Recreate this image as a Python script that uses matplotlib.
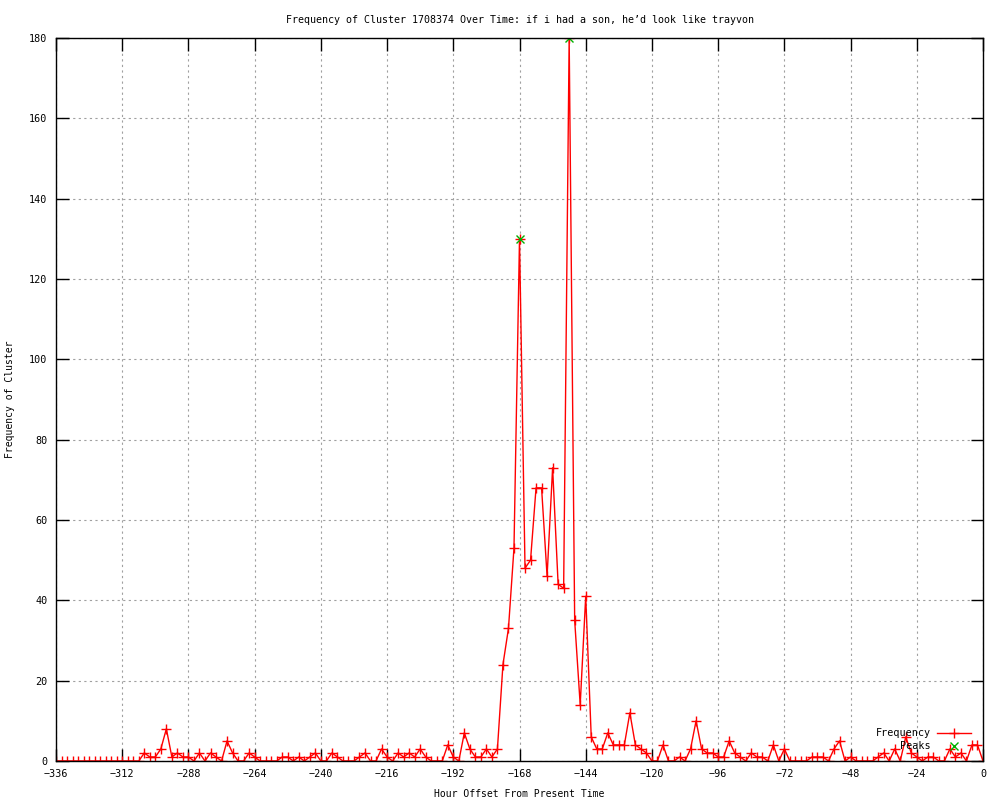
import numpy as np
import matplotlib
matplotlib.use("Agg")
import matplotlib.pyplot as plt

# hourly offsets, sampled every 2 hours
hours = np.arange(-336, 1, 2)
freq = [
    0, 0, 0, 0, 0, 0, 0, 0, 0, 0, 0, 0, 0, 0, 0, 0,      # -336 .. -306
    2, 1, 1, 3, 8, 1, 2, 1, 1, 0, 2, 0,                  # -304 .. -282
    2, 1, 0, 5, 2, 0, 0, 2, 1, 0, 0, 0,                  # -280 .. -258
    0, 1, 1, 0, 1, 0, 1, 2, 0, 0, 2, 1,                  # -256 .. -234
    0, 0, 0, 1, 2, 0, 0, 3, 1, 0, 2, 1,                  # -232 .. -210
    2, 1, 3, 1, 0, 0, 0, 4, 1, 0, 7, 3,                  # -208 .. -186
    1, 1, 3, 1, 3, 24, 33, 53, 130, 48, 50, 68,          # -184 .. -162
    68, 46, 73, 44, 43, 180, 35, 14, 41, 6, 3, 3,        # -160 .. -138
    7, 4, 4, 4, 12, 4, 3, 2, 0, 0, 4, 0,                 # -136 .. -114
    0, 1, 0, 3, 10, 3, 2, 2, 1, 1, 5, 2,                 # -112 .. -90
    1, 0, 2, 1, 1, 0, 4, 0, 3, 0, 0, 0,                  # -88 .. -66
    0, 1, 1, 1, 0, 3, 5, 0, 1, 0, 0, 0,                  # -64 .. -42
    0, 1, 2, 0, 3, 0, 6, 2, 1, 0, 1, 1,                  # -40 .. -18
    0, 0, 3, 1, 2, 0, 4, 4, 0,                           # -16 .. 0
]
peak_hours = [-168, -150]
peak_vals = [130, 180]

title = "Frequency of Cluster 1708374 Over Time: if i had a son, he\u2019d look like trayvon"

plt.rcParams['font.family'] = ['DejaVu Sans Mono']
plt.rcParams['font.size'] = 7

fig = plt.figure(figsize=(10, 8), dpi=100)
ax = fig.add_axes([0.056, 0.04875, 0.927, 0.90375])

ax.plot(hours, freq, color='red', lw=1, marker='+', ms=7, mew=1,
        label='Frequency')
ax.plot(peak_hours, peak_vals, ls='none', color='#00b000', marker='x',
        ms=5.5, mew=1, label='Peaks')

ax.set_xlim(-336, 0)
ax.set_ylim(0, 180)
ax.set_xticks(np.arange(-336, 1, 24))
ax.set_yticks(np.arange(0, 181, 20))
ax.tick_params(direction='in', length=9, width=1, top=True, right=True,
               labelsize=7.3, pad=6)
ax.grid(True, color='#a0a0a0', ls=(0, (2, 3)), lw=0.8)
for s in ax.spines.values():
    s.set_linewidth(1)

ax.set_title(title, fontsize=7.2, pad=11)
ax.set_xlabel("Hour Offset From Present Time", fontsize=7, labelpad=7)
ax.set_ylabel("Frequency of Cluster", fontsize=7, labelpad=10)

ax.legend(loc='lower right', bbox_to_anchor=(0.997, 0.0), frameon=False,
          markerfirst=False, fontsize=7.3, handlelength=3.3,
          labelspacing=0.3, borderpad=0.45, handletextpad=0.6)

fig.savefig("out.png", dpi=100)
